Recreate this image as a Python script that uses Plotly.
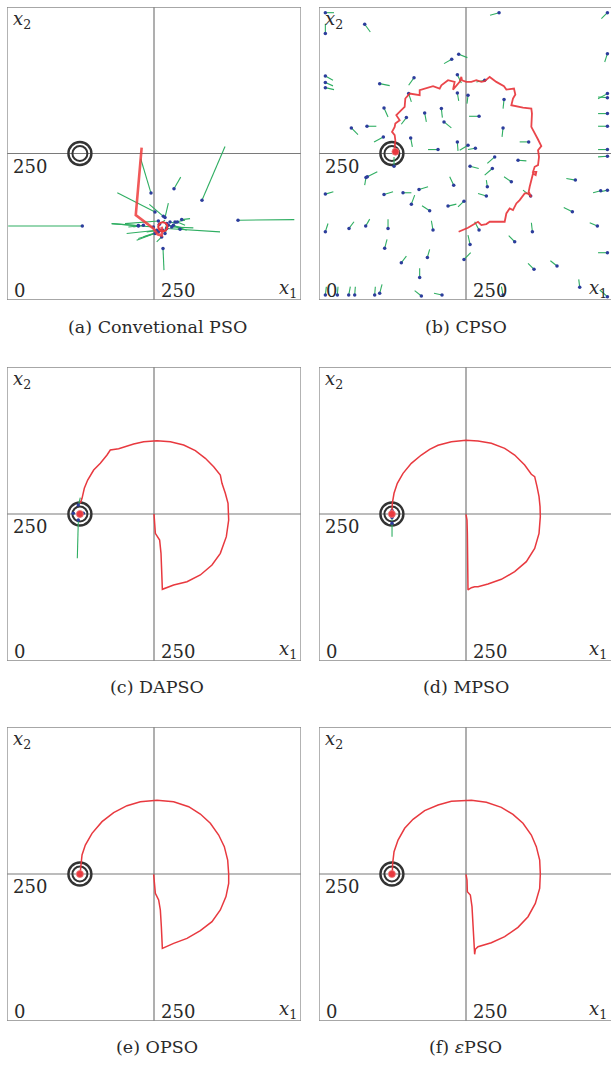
import plotly.graph_objects as go

# ---------------- data (problem coordinates, 0..500) ----------------
TARGET = (124, 250)

# (a) Conventional PSO: particles (position -> velocity end), gbest path
A_PX = [244.9, 284.0, 331.6, 392.9, 265.3, 128.1, 223.3, 251.7, 265.9, 268.7, 257.4, 248.9, 254.6, 257.4, 251.7,
        271.6, 280.1, 297.1, 289.7, 282.9, 268.7, 263.1, 271.6, 274.4, 259.1, 277.2, 260.2, 231.9, 223.4, 294.3,
        264.8, 285.7]
A_PY = [182.5, 190.0, 170.1, 136.1, 87.9, 126.4, 127.0, 150.2, 142.8, 140.6, 134.9, 124.7, 119.0, 116.2, 113.4,
        121.9, 124.7, 137.2, 133.2, 127.5, 113.4, 107.7, 130.4, 127.5, 129.2, 133.2, 119.0, 127.5, 126.4, 120.7,
        119.0, 133.2]
A_VX = [227.4, 295.4, 370.8, 488.6, 267.0, 2.0, 178.1, 187.6, 242.1, 274.4, 200.7, 178.0, 203.5, 220.5, 223.4,
        362.3, 316.9, 311.3, 302.8, 305.6, 271.6, 254.6, 268.7, 297.1, 268.7, 288.6, 237.5, 214.9, 206.4, 288.6,
        231.9, 302.8]
A_VY = [241.0, 209.7, 261.9, 137.2, 51.0, 126.4, 130.4, 183.1, 163.3, 165.5, 130.4, 130.4, 113.4, 102.0, 104.9,
        116.2, 123.0, 138.9, 127.5, 119.0, 120.2, 99.2, 119.0, 123.6, 136.0, 130.4, 116.2, 124.7, 124.7, 124.7,
        107.7, 136.0]
A_GX = [229, 219, 249, 256, 263, 264, 263]
A_GY = [260, 145, 122, 112, 110, 118, 125]
A_BEST = (265, 125)

# (b) CPSO
B_PX = [10.8, 10.8, 77.7, 306.2, 490.5, 490.5, 237.6, 225.7, 10.8, 10.8, 10.8, 103.2, 161.6, 235.3, 281.8, 235.3,
        253.4, 152.5, 314.7, 490.5, 490.5, 490.5, 490.5, 490.5, 490.5, 110.6, 148.6, 179.7, 208.1, 212.6, 272.2,
        55.0, 81.6, 109.4, 313.0, 356.6, 155.9, 202.4, 235.3, 253.4, 265.9, 127.6, 298.8, 338.5, 256.9, 294.8,
        82.2, 79.9, 327.1, 229.1, 286.3, 360.0, 436.0, 479.1, 490.5, 10.8, 110.6, 142.9, 170.1, 157.1, 284.6,
        219.4, 246.6, 188.2, 430.9, 10.8, 51.0, 79.4, 117.4, 193.9, 256.9, 272.2, 362.9, 332.8, 473.4, 111.7,
        246.6, 140.0, 184.3, 365.7, 404.8, 490.5, 171.2, 443.4, 10.8, 31.2, 50.5, 60.7, 94.7, 103.2, 174.1,
        209.2, 313.0, 490.5]
B_PY = [490.3, 454.6, 470.5, 490.3, 490.3, 420.3, 419.3, 410.8, 382.4, 371.0, 362.4, 369.2, 379.4, 384.5, 374.9,
        353.3, 349.4, 352.2, 342.1, 352.2, 345.3, 318.1, 296.5, 256.7, 245.4, 327.7, 311.3, 319.2, 326.6, 303.9,
        313.5, 293.7, 296.5, 278.3, 293.7, 269.8, 276.6, 256.7, 269.8, 264.1, 259.0, 228.4, 244.2, 238.6, 228.4,
        224.4, 210.2, 209.1, 201.7, 196.0, 193.2, 177.3, 204.6, 186.4, 187.5, 180.7, 180.1, 183.0, 188.6, 163.6,
        177.3, 160.2, 168.7, 152.2, 150.5, 116.4, 122.1, 126.1, 122.1, 119.3, 94.9, 119.3, 116.4, 99.4, 126.1,
        88.1, 69.3, 63.6, 72.7, 52.3, 58.0, 80.7, 38.6, 21.6, 8.5, 8.5, 8.5, 8.5, 8.5, 11.4, 6.8, 8.5, 8.5, 5.7]
B_VX = [25.5, 10.8, 87.3, 290.9, 480.2, 485.9, 252.3, 212.6, 23.8, 23.8, 25.5, 120.2, 152.5, 242.1, 267.6, 237.6,
        251.7, 157.1, 313.0, 474.6, 474.6, 474.6, 474.6, 474.6, 474.6, 117.4, 140.0, 182.6, 209.8, 225.1, 255.2,
        66.3, 97.5, 93.6, 311.3, 341.3, 158.8, 185.4, 236.4, 239.3, 253.4, 127.6, 286.3, 352.7, 271.6, 281.8,
        99.2, 77.7, 314.7, 222.3, 284.6, 347.0, 420.7, 466.1, 479.1, 24.4, 125.9, 157.1, 185.4, 162.7, 270.5,
        233.6, 236.4, 175.2, 416.2, 15.3, 59.5, 86.2, 117.4, 191.1, 253.4, 264.8, 361.2, 322.6, 460.4, 115.7,
        258.0, 148.6, 188.2, 355.5, 393.5, 474.6, 171.2, 441.7, 12.5, 32.3, 53.3, 61.8, 95.8, 107.2, 162.7,
        195.6, 310.2, 477.4]
B_VY = [490.3, 471.6, 457.4, 485.8, 480.1, 406.2, 413.6, 403.4, 375.0, 365.4, 359.0, 365.8, 366.4, 370.3, 372.0,
        339.7, 335.1, 338.0, 326.6, 343.6, 346.5, 318.1, 296.5, 256.7, 244.2, 312.4, 299.9, 303.9, 311.3, 293.7,
        313.5, 282.3, 296.5, 269.8, 278.3, 269.8, 261.3, 256.7, 254.5, 255.6, 256.7, 244.2, 233.0, 237.5, 224.4,
        213.0, 218.8, 196.0, 210.2, 210.2, 204.6, 187.5, 207.4, 183.0, 184.7, 184.7, 184.7, 183.0, 193.2, 179.0,
        181.8, 163.6, 159.0, 160.7, 157.9, 130.6, 133.5, 138.0, 138.0, 135.2, 110.8, 133.5, 131.8, 109.7, 131.8,
        103.4, 80.7, 75.0, 86.4, 62.5, 67.0, 80.7, 54.0, 35.2, 22.7, 22.7, 22.7, 22.7, 22.7, 26.7, 15.9, 11.4,
        22.7, 17.0]
B_GX = [237.5, 253.4, 270.4, 276.1, 284.6, 290.3, 315.8, 318.6, 324.3, 329.9, 335.6, 341.3, 349.8, 355.5, 361.1,
        356.6, 358.3, 361.1, 364.0, 368.5, 369.6, 364.0, 366.8, 372.5, 374.2, 372.5, 378.1, 372.5, 365.6, 361.1,
        362.2, 361.1, 346.9, 327.1, 329.9, 333.9, 331.6, 318.6, 314.6, 301.6, 290.3, 281.7, 276.1, 267.6, 259.1,
        250.6, 243.2, 242.1, 239.2, 227.9, 230.7, 219.4, 208.1, 205.2, 193.9, 171.2, 171.2, 162.7, 154.2, 146.8,
        145.7, 140.0, 131.5, 137.2, 129.8, 128.7, 124.2, 128.7, 129.8, 128.7, 129.8]
B_GY = [116.5, 123.3, 133.5, 127.8, 129.6, 133.5, 133.5, 147.7, 156.3, 153.4, 164.8, 170.5, 181.8, 181.8, 176.1,
        184.7, 193.2, 204.6, 215.9, 213.1, 218.8, 218.8, 227.3, 230.1, 244.3, 255.7, 262.5, 273.9, 286.9, 295.5,
        318.2, 326.7, 328.4, 332.4, 343.8, 350.6, 360.8, 359.1, 364.8, 372.2, 380.7, 373.3, 372.2, 375.0, 372.2,
        372.2, 375.0, 380.7, 372.2, 359.1, 372.2, 375.0, 366.5, 360.8, 364.8, 358.0, 349.4, 350.6, 352.3, 343.8,
        329.6, 323.9, 315.4, 306.8, 301.1, 295.5, 286.9, 281.3, 272.7, 258.5, 252.8]
B_BEST = (130, 253)

# (c) DAPSO
C_PX = [121.3, 112.8, 129.8, 121.3, 124.7]
C_PY = [265.3, 251.2, 251.2, 239.8, 250.0]
C_VX = [124.7, 112.8, 129.8, 119.6, 124.7]
C_VY = [278.0, 251.2, 251.2, 174.7, 244.0]
C_GX = [250.0, 250.6, 252.3, 259.6, 261.9, 263.0, 264.2, 283.4, 306.1, 328.8, 348.6, 362.8, 373.0, 377.0, 377.0,
        375.9, 371.3, 365.6, 362.8, 351.5, 337.3, 320.3, 300.5, 277.8, 255.1, 232.4, 215.4, 204.1, 189.9, 175.7,
        170.1, 158.7, 147.4, 137.2, 131.5, 127.6, 124.7]
C_GY = [250.0, 239.8, 217.1, 205.8, 183.1, 154.8, 121.9, 129.3, 134.9, 146.3, 163.3, 183.1, 211.5, 239.8, 250.0,
        268.1, 285.2, 302.2, 316.3, 330.5, 344.7, 357.7, 367.3, 373.0, 374.7, 373.0, 369.0, 365.6, 361.1, 358.8,
        350.3, 336.2, 324.8, 307.8, 293.7, 276.6, 268.1]

# (d) MPSO
D_PX = [124.2, 124.2, 124.2]
D_PY = [256.0, 244.0, 234.1]
D_VX = [124.2, 124.2, 124.2]
D_VY = [262.0, 238.0, 211.5]
D_GX = [250.0, 251.7, 252.3, 252.8, 253.4, 259.1, 264.7, 270.4, 287.4, 310.1, 332.8, 352.6, 366.8, 374.2, 376.4,
        375.9, 374.2, 370.8, 366.8, 361.1, 358.3, 349.8, 332.8, 315.8, 293.1, 270.4, 250.0, 225.1, 202.4, 188.2,
        174.0, 157.0, 142.9, 133.2, 127.6, 124.7, 124.2]
D_GY = [249.4, 239.8, 217.1, 171.8, 120.8, 124.7, 126.4, 126.4, 131.0, 138.9, 151.9, 168.9, 191.6, 217.1, 245.5,
        262.5, 279.5, 296.5, 313.5, 317.5, 322.0, 333.3, 350.3, 361.7, 370.2, 374.2, 375.3, 373.0, 366.8, 360.0,
        350.3, 336.2, 319.2, 302.2, 285.2, 268.1, 253.9]

# (e) OPSO
E_GX = [249.4, 250.6, 252.3, 257.9, 260.8, 262.5, 264.2, 283.4, 306.1, 328.8, 348.6, 362.8, 372.4, 377.0, 377.0,
        375.3, 369.6, 360.0, 345.8, 328.8, 309.0, 283.4, 255.1, 226.8, 204.1, 181.4, 161.6, 144.6, 133.2, 127.6,
        125.3, 124.7]
E_GY = [249.4, 239.8, 217.1, 205.8, 188.8, 160.4, 123.6, 132.1, 140.6, 153.6, 168.9, 188.8, 211.5, 234.1, 250.0,
        273.8, 296.5, 316.3, 336.2, 352.0, 364.5, 373.0, 375.3, 373.0, 366.2, 354.3, 339.0, 319.2, 299.3, 282.3,
        262.5, 254.0]

# (f) epsilon-PSO
F_GX = [250.0, 251.7, 252.3, 257.4, 260.2, 261.9, 263.6, 264.7, 265.9, 270.4, 293.1, 315.8, 338.4, 355.5, 367.9,
        375.3, 376.4, 375.3, 369.6, 361.1, 346.9, 329.9, 310.1, 284.6, 259.1, 225.1, 202.4, 179.7, 159.9, 145.7,
        134.4, 127.6, 125.3, 124.7]
F_GY = [249.4, 239.8, 220.0, 214.3, 194.5, 160.4, 132.1, 113.4, 121.9, 126.4, 133.2, 143.4, 159.3, 177.4, 200.1,
        225.6, 250.0, 273.8, 296.5, 316.3, 336.2, 351.5, 363.4, 371.9, 375.3, 373.6, 367.3, 357.7, 343.0, 327.7,
        307.8, 288.0, 268.1, 253.9]

CAPTIONS = ["(a) Convetional PSO", "(b) CPSO", "(c) DAPSO", "(d) MPSO", "(e) OPSO", "(f) <i>ε</i>PSO"]
MID = 250
LIM = 500

# ---------------- layout ----------------
W, H = 611, 1066
COLS = [(7, 301), (319, 611)]
ROWS = [(7, 300), (367, 661), (727, 1021)]
SCALE = 500 / 294.0

GREEN = "#2fae62"
BLUE = "#2c3d9c"
RED = "#e8393f"
GRAY = "#7a7a7a"
TXT = "#2a2a2a"
FONT = "DejaVu Serif"

fig = go.Figure()
shapes, annotations = [], []

def seg(px, py, vx, vy):
    xs, ys = [], []
    for a, b, c, d in zip(px, py, vx, vy):
        xs += [a, c, None]
        ys += [b, d, None]
    return xs, ys

panels = [
    dict(P=(A_PX, A_PY, A_VX, A_VY), G=(A_GX, A_GY), best=A_BEST, gw=2.6, gc="rgba(238,60,60,0.85)"),
    dict(P=(B_PX, B_PY, B_VX, B_VY), G=(B_GX, B_GY), best=B_BEST, gw=1.8, gc="rgba(232,50,55,0.9)"),
    dict(P=(C_PX, C_PY, C_VX, C_VY), G=(C_GX, C_GY), best=TARGET, gw=1.5, gc=RED),
    dict(P=(D_PX, D_PY, D_VX, D_VY), G=(D_GX, D_GY), best=TARGET, gw=1.5, gc=RED),
    dict(P=None, G=(E_GX, E_GY), best=TARGET, gw=1.5, gc=RED),
    dict(P=None, G=(F_GX, F_GY), best=TARGET, gw=1.5, gc=RED),
]

for i, p in enumerate(panels):
    r, c = divmod(i, 2)
    n = i + 1
    xa = "x" if n == 1 else f"x{n}"
    ya = "y" if n == 1 else f"y{n}"
    (cx0, cx1), (ry0, ry1) = COLS[c], ROWS[r]
    xmax = (cx1 - cx0) * SCALE
    fig.layout[f"xaxis{'' if n == 1 else n}"] = dict(
        domain=[cx0 / W, cx1 / W], range=[0, xmax], visible=False, anchor=ya, fixedrange=True)
    fig.layout[f"yaxis{'' if n == 1 else n}"] = dict(
        domain=[(H - ry1) / H, (H - ry0) / H], range=[0, LIM], visible=False, anchor=xa, fixedrange=True)

    # crosshair
    shapes.append(dict(type="line", xref=xa, yref=ya, x0=MID, x1=MID, y0=0, y1=LIM,
                       line=dict(color=GRAY, width=1.2), layer="below"))
    shapes.append(dict(type="line", xref=xa, yref=ya, x0=0, x1=min(LIM, xmax), y0=MID, y1=MID,
                       line=dict(color=GRAY, width=1.2), layer="below"))
    # frame (left, top, bottom, right when visible)
    fr = dict(color="#8a8a8a", width=1.3)
    shapes.append(dict(type="line", xref=xa, yref=ya, x0=0, x1=0, y0=0, y1=LIM, line=fr))
    shapes.append(dict(type="line", xref=xa, yref=ya, x0=0, x1=xmax, y0=LIM, y1=LIM, line=fr))
    shapes.append(dict(type="line", xref=xa, yref=ya, x0=0, x1=xmax, y0=0, y1=0, line=fr))
    if c == 0:
        shapes.append(dict(type="line", xref=xa, yref=ya, x0=LIM, x1=LIM, y0=0, y1=LIM, line=fr))

    # target rings
    fig.add_trace(go.Scatter(x=[TARGET[0]], y=[TARGET[1]], xaxis=xa, yaxis=ya, mode="markers",
                             marker=dict(symbol="circle-open", size=23, color="#333333", line=dict(width=2.4)),
                             hoverinfo="skip", showlegend=False))
    fig.add_trace(go.Scatter(x=[TARGET[0]], y=[TARGET[1]], xaxis=xa, yaxis=ya, mode="markers",
                             marker=dict(symbol="circle-open", size=15, color="#333333", line=dict(width=2.0)),
                             hoverinfo="skip", showlegend=False))

    # particles
    if p["P"] is not None:
        sx, sy = seg(*p["P"])
        fig.add_trace(go.Scatter(x=sx, y=sy, xaxis=xa, yaxis=ya, mode="lines",
                                 line=dict(color=GREEN, width=1.1), hoverinfo="skip", showlegend=False))
        fig.add_trace(go.Scatter(x=p["P"][0], y=p["P"][1], xaxis=xa, yaxis=ya, mode="markers",
                                 marker=dict(color=BLUE, size=3.5), hoverinfo="skip", showlegend=False))

    # gbest trajectory
    fig.add_trace(go.Scatter(x=p["G"][0], y=p["G"][1], xaxis=xa, yaxis=ya, mode="lines",
                             line=dict(color=p["gc"], width=p["gw"]), hoverinfo="skip", showlegend=False))
    # best marker
    if i == 0:
        fig.add_trace(go.Scatter(x=[p["best"][0]], y=[p["best"][1]], xaxis=xa, yaxis=ya, mode="markers",
                                 marker=dict(symbol="circle-open", size=9, color=RED, line=dict(width=2.2)),
                                 hoverinfo="skip", showlegend=False))
    else:
        fig.add_trace(go.Scatter(x=[p["best"][0]], y=[p["best"][1]], xaxis=xa, yaxis=ya, mode="markers",
                                 marker=dict(size=7, color=RED, line=dict(color="rgba(240,120,120,0.8)", width=1)),
                                 hoverinfo="skip", showlegend=False))

    # in-panel labels
    f = dict(family=FONT, size=18, color=TXT)
    x1_pos = 460 if c == 0 else 456
    annotations += [
        dict(xref=xa, yref=ya, x=7, y=478, text="<i>x</i><sub>2</sub>", showarrow=False,
             xanchor="left", yanchor="middle", font=f),
        dict(xref=xa, yref=ya, x=7, y=228, text="250", showarrow=False,
             xanchor="left", yanchor="middle", font=f),
        dict(xref=xa, yref=ya, x=8, y=17, text="0", showarrow=False,
             xanchor="left", yanchor="middle", font=f),
        dict(xref=xa, yref=ya, x=259, y=17, text="250", showarrow=False,
             xanchor="left", yanchor="middle", font=f),
        dict(xref=xa, yref=ya, x=x1_pos, y=19, text="<i>x</i><sub>1</sub>", showarrow=False,
             xanchor="left", yanchor="middle", font=f),
    ]
    # caption
    cap_y = [327, 687, 1047][r]
    annotations.append(dict(xref="paper", yref="paper", x=[157, 466][c] / W, y=(H - cap_y) / H,
                            text=CAPTIONS[i], showarrow=False, xanchor="center", yanchor="middle",
                            font=dict(family=FONT, size=17.5, color=TXT)))

fig.update_layout(width=W, height=H, margin=dict(l=0, r=0, t=0, b=0),
                  paper_bgcolor="white", plot_bgcolor="white",
                  shapes=shapes, annotations=annotations, showlegend=False)

fig.write_html("out.html", config={"displayModeBar": False},
               post_script="document.body.style.margin='0';")
